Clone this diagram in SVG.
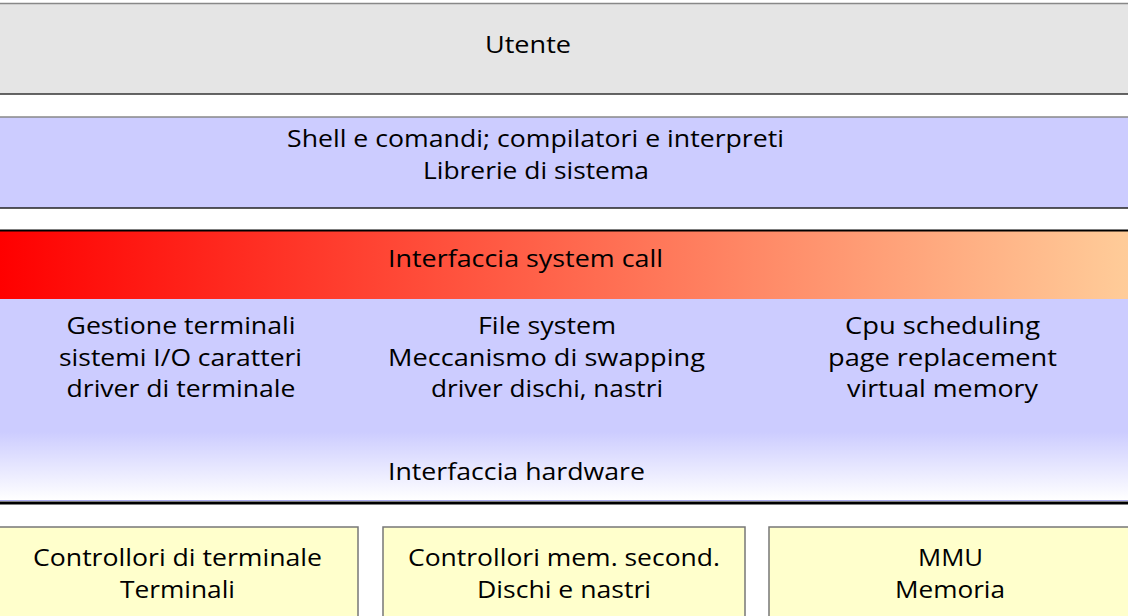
<svg xmlns="http://www.w3.org/2000/svg" width="1128" height="616" viewBox="0 0 1128 616">
  <style>
    .t { font-family: "Open Sans", "Noto Sans", "Liberation Sans", sans-serif; font-size: 23px; fill: #000; text-anchor: middle; }
    .hw { fill: #ffffcc; stroke: #777; stroke-width: 1.5; }
  </style>
  <defs>
    <linearGradient id="syscallGrad" x1="0" y1="0" x2="1" y2="0">
      <stop offset="0" stop-color="#ff0000"/>
      <stop offset="1" stop-color="#ffcc99"/>
    </linearGradient>
    <linearGradient id="kernelGrad" x1="0" y1="0" x2="0" y2="1">
      <stop offset="0" stop-color="#ccccff"/>
      <stop offset="0.66" stop-color="#ccccff"/>
      <stop offset="1" stop-color="#ffffff"/>
    </linearGradient>
  </defs>

  <rect x="0" y="0" width="1128" height="616" fill="#ffffff"/>

  <!-- User layer -->
  <g id="utente">
    <rect x="-2" y="3" width="1132" height="91" fill="#e5e5e5"/>
    <line x1="0" y1="3.5" x2="1128" y2="3.5" stroke="#888" stroke-width="1.5"/>
    <line x1="0" y1="94" x2="1128" y2="94" stroke="#333" stroke-width="1.5"/>
    <text class="t" x="528" y="53" textLength="86" lengthAdjust="spacingAndGlyphs">Utente</text>
  </g>

  <!-- Shell and libraries layer -->
  <g id="shell">
    <rect x="-2" y="117" width="1132" height="91" fill="#ccccff"/>
    <line x1="0" y1="117" x2="1128" y2="117" stroke="#888" stroke-width="1.5"/>
    <line x1="0" y1="208" x2="1128" y2="208" stroke="#222" stroke-width="1.5"/>
    <text class="t" x="535.5" y="147" textLength="497" lengthAdjust="spacingAndGlyphs">Shell e comandi; compilatori e interpreti</text>
    <text class="t" x="536" y="179" textLength="226" lengthAdjust="spacingAndGlyphs">Librerie di sistema</text>
  </g>

  <!-- Kernel body -->
  <g id="kernel">
    <rect x="-2" y="299" width="1132" height="201" fill="url(#kernelGrad)"/>
    <line x1="0" y1="500.5" x2="1128" y2="500.5" stroke="#aaaaee" stroke-width="1"/>
    <line x1="0" y1="503" x2="1128" y2="503" stroke="#000" stroke-width="3"/>
    <text class="t" x="181" y="334" textLength="229" lengthAdjust="spacingAndGlyphs">Gestione terminali</text>
    <text class="t" x="180.5" y="366" textLength="243" lengthAdjust="spacingAndGlyphs">sistemi I/O caratteri</text>
    <text class="t" x="181" y="397" textLength="229" lengthAdjust="spacingAndGlyphs">driver di terminale</text>
    <text class="t" x="547" y="334" textLength="138" lengthAdjust="spacingAndGlyphs">File system</text>
    <text class="t" x="546.5" y="366" textLength="317" lengthAdjust="spacingAndGlyphs">Meccanismo di swapping</text>
    <text class="t" x="547" y="397" textLength="232" lengthAdjust="spacingAndGlyphs">driver dischi, nastri</text>
    <text class="t" x="942.5" y="334" textLength="195" lengthAdjust="spacingAndGlyphs">Cpu scheduling</text>
    <text class="t" x="942.5" y="366" textLength="229" lengthAdjust="spacingAndGlyphs">page replacement</text>
    <text class="t" x="942.5" y="397" textLength="191" lengthAdjust="spacingAndGlyphs">virtual memory</text>
    <text class="t" x="516.5" y="480" textLength="257" lengthAdjust="spacingAndGlyphs">Interfaccia hardware</text>
  </g>

  <!-- System call interface band -->
  <g id="syscall">
    <rect x="0" y="230" width="1128" height="69" fill="url(#syscallGrad)"/>
    <line x1="0" y1="230.5" x2="1128" y2="230.5" stroke="#000" stroke-width="2"/>
    <text class="t" x="525.5" y="267" textLength="275" lengthAdjust="spacingAndGlyphs">Interfaccia system call</text>
  </g>

  <!-- Hardware blocks -->
  <g id="hw-terminali">
    <rect class="hw" x="-4" y="527" width="362" height="100"/>
    <text class="t" x="177.5" y="566" textLength="289" lengthAdjust="spacingAndGlyphs">Controllori di terminale</text>
    <text class="t" x="177.5" y="598" textLength="115" lengthAdjust="spacingAndGlyphs">Terminali</text>
  </g>
  <g id="hw-dischi">
    <rect class="hw" x="383" y="527" width="362" height="100"/>
    <text class="t" x="564" y="566" textLength="312" lengthAdjust="spacingAndGlyphs">Controllori mem. second.</text>
    <text class="t" x="564" y="598" textLength="174" lengthAdjust="spacingAndGlyphs">Dischi e nastri</text>
  </g>
  <g id="hw-memoria">
    <rect class="hw" x="769" y="527" width="362" height="100"/>
    <text class="t" x="950.5" y="566" textLength="65" lengthAdjust="spacingAndGlyphs">MMU</text>
    <text class="t" x="950" y="598" textLength="110" lengthAdjust="spacingAndGlyphs">Memoria</text>
  </g>

  <g id="connectors"/>
</svg>
